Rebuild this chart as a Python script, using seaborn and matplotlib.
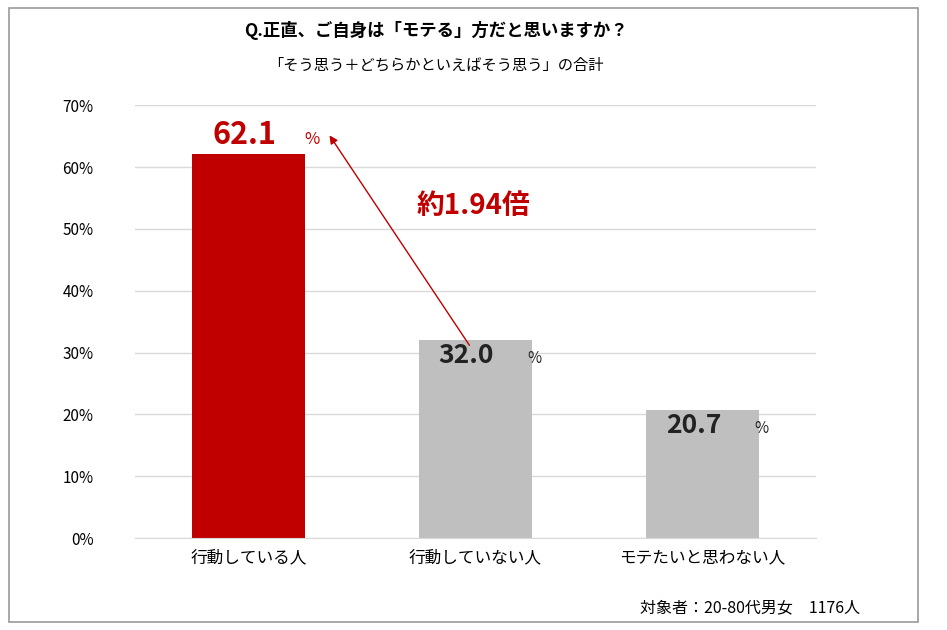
import matplotlib
matplotlib.use("Agg")
import matplotlib.pyplot as plt
import seaborn as sns
import pandas as pd
from matplotlib.patches import Rectangle

plt.rcParams["font.family"] = "Noto Sans CJK JP"

categories = ["行動している人", "行動していない人", "モテたいと思わない人"]
values = [62.1, 32.0, 20.7]
colors = ["#c00000", "#bfbfbf", "#bfbfbf"]
yticks = [0, 10, 20, 30, 40, 50, 60, 70]

df = pd.DataFrame({"cat": categories, "val": values})
fig = plt.figure(figsize=(9.47, 6.3), dpi=100)
fig.patches.append(Rectangle((0.009, 0.013), 0.96, 0.975, transform=fig.transFigure,
                             fill=False, edgecolor="#999999", lw=1.2))
ax = fig.add_axes([0.1426, 0.146, 0.719, 0.687])
sns.barplot(data=df, x="cat", y="val", hue="cat", palette=colors, width=0.5,
            legend=False, ax=ax, saturation=1)
ax.set_ylim(0, 70)
ax.set_xlim(-0.5, 2.5)
ax.set_yticks(yticks)
ax.set_yticklabels([f"{t}%" for t in yticks], fontsize=11)
ax.tick_params(axis="x", labelsize=12, length=0, pad=8)
ax.tick_params(axis="y", length=0, pad=30)
ax.yaxis.grid(True, color="#d9d9d9", lw=1)
ax.set_axisbelow(True)
for s in ["top", "right", "left"]:
    ax.spines[s].set_visible(False)
ax.spines["bottom"].set_color("#d9d9d9")
ax.set_xlabel(""); ax.set_ylabel("")

# labels
ax.text(-0.02, values[0] + 0.5, f"{values[0]:.1f}", color="#c00000", fontsize=22,
        fontweight="bold", ha="center", va="bottom")
ax.text(0.28, values[0] + 0.9, "%", color="#c00000", fontsize=12, ha="center", va="bottom")
for i in (1, 2):
    ax.text(i - 0.04, values[i] - 2.5, f"{values[i]:.1f}", color="#222222", fontsize=19,
            fontweight="bold", ha="center", va="center")
    ax.text(i + 0.26, values[i] - 3.0, "%", color="#222222", fontsize=11, ha="center", va="center")

ax.annotate("", xy=(0.35, 65.5), xytext=(0.98, 30.8),
            arrowprops=dict(arrowstyle="-|>", color="#c00000", lw=1, mutation_scale=12))
ax.text(0.99, 53.7, "約1.94倍", color="#c00000", fontsize=20, fontweight="bold",
        ha="center", va="center")

fig.text(0.46, 0.952, "Q.正直、ご自身は「モテる」方だと思いますか？", fontsize=12.5,
         fontweight="bold", ha="center", va="center")
fig.text(0.46, 0.897, "「そう思う＋どちらかといえばそう思う」の合計", fontsize=11,
         ha="center", va="center")
fig.text(0.792, 0.036, "対象者：20-80代男女　1176人", fontsize=11.5, ha="center", va="center")

fig.savefig("out.png", dpi=100)
